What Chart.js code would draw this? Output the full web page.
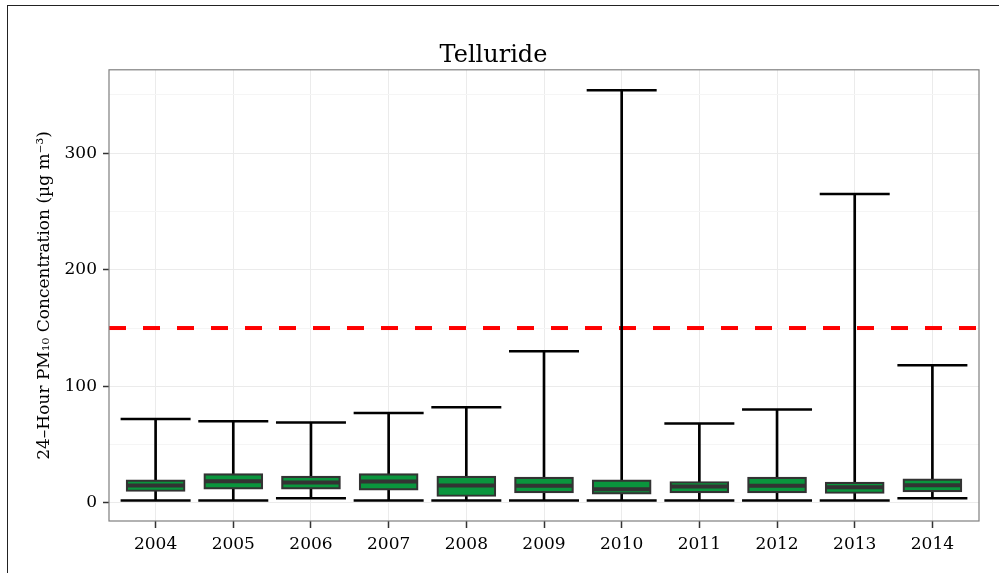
<!DOCTYPE html>
<html>
<head>
<meta charset="utf-8">
<script src="https://cdn.jsdelivr.net/npm/chart.js@4/dist/chart.umd.min.js"></script>
<style>
  html, body { margin: 0; padding: 0; background: #ffffff; }
  #wrap { position: relative; width: 999px; height: 573px; overflow: hidden; }
  #frame { position: absolute; left: 7px; top: 5px; width: 1010px; height: 600px;
           border: 1.5px solid #222; pointer-events: none; }
</style>
</head>
<body>
<div id="wrap">
  <canvas id="c" width="999" height="573"></canvas>
  <div id="frame"></div>
</div>
<script>
// ---- data ----
const years        = ['2004','2005','2006','2007','2008','2009','2010','2011','2012','2013','2014'];
const whiskerHigh  = [72, 70, 69, 77, 82, 130, 354, 68, 80, 265, 118];
const whiskerLow   = [2, 2, 4, 2, 2, 2, 2, 2, 2, 2, 4];
const q3           = [19.7, 25, 22.9, 25, 22.9, 22, 19.7, 18.3, 22, 17.7, 20.6];
const q1           = [9.7, 11.7, 11.7, 10.9, 5.4, 8.6, 7.4, 8.6, 8.6, 8, 9.4];
const medians      = [14.8, 18.6, 17.4, 18.3, 14.8, 14.6, 11.7, 14, 14.6, 13.4, 15.1];
const standard     = 150;                      // 24-hour PM10 NAAQS
const yTickValues  = [0, 50, 100, 150, 200, 250, 300, 350];
const yLabelValues = [0, 100, 200, 300];
const yLimits      = [-15.6, 371.6];
const xLimits      = [-0.6, years.length - 1 + 0.6];

const FONT = "'DejaVu Serif', serif";
const idx = years.map((_, i) => i);

const panelBorder = {
  id: 'panelBorder',
  afterDraw(chart) {
    const a = chart.chartArea, ctx = chart.ctx;
    ctx.save();
    ctx.strokeStyle = '#7f7f7f';
    ctx.lineWidth = 1.2;
    ctx.strokeRect(a.left, a.top, a.right - a.left, a.bottom - a.top);
    ctx.restore();
  }
};

new Chart(document.getElementById('c'), {
  type: 'bar',
  data: {
    datasets: [
      {
        type: 'line',
        label: 'standard',
        data: xLimits.map(x => ({ x: x, y: standard })),
        borderColor: '#ff0000',
        borderWidth: 4,
        borderDash: [17, 17],
        pointRadius: 0,
        fill: false,
        order: 5
      },
      {
        type: 'bar',
        label: 'whisker',
        data: idx.map(i => ({ x: i, y: [whiskerLow[i], whiskerHigh[i]] })),
        backgroundColor: '#000000',
        barThickness: 2,
        grouped: false,
        order: 4
      },
      {
        type: 'scatter',
        label: 'caps high',
        data: idx.map(i => ({ x: i, y: whiskerHigh[i] })),
        pointStyle: 'line',
        pointRadius: 35,
        pointHoverRadius: 35,
        borderColor: '#000000',
        borderWidth: 2.5,
        order: 3
      },
      {
        type: 'scatter',
        label: 'caps low',
        data: idx.map(i => ({ x: i, y: whiskerLow[i] })),
        pointStyle: 'line',
        pointRadius: 35,
        pointHoverRadius: 35,
        borderColor: '#000000',
        borderWidth: 2.5,
        order: 3
      },
      {
        type: 'bar',
        label: 'box',
        data: idx.map(i => ({ x: i, y: [q1[i], q3[i]] })),
        backgroundColor: '#0a953d',
        borderColor: '#333333',
        borderWidth: 2.2,
        borderSkipped: false,
        barThickness: 59,
        grouped: false,
        order: 2
      },
      {
        type: 'scatter',
        label: 'median',
        data: idx.map(i => ({ x: i, y: medians[i] })),
        pointStyle: 'line',
        pointRadius: 28.5,
        pointHoverRadius: 28.5,
        borderColor: '#333333',
        borderWidth: 4,
        order: 1
      }
    ]
  },
  options: {
    responsive: false,
    animation: false,
    devicePixelRatio: 1,
    layout: { autoPadding: false, padding: { left: 8, right: 20, top: 10, bottom: 0 } },
    plugins: {
      legend: { display: false },
      tooltip: { enabled: false },
      title: {
        display: true,
        text: 'Telluride',
        color: '#000000',
        font: { family: FONT, size: 24, weight: 'normal' },
        padding: { top: 31, bottom: 0 }
      }
    },
    scales: {
      x: {
        type: 'linear',
        position: 'bottom',
        offset: false,
        min: xLimits[0],
        max: xLimits[1],
        afterBuildTicks: s => { s.ticks = idx.map(v => ({ value: v })); },
        afterFit: s => { s.height = 52; },
        ticks: {
          callback: v => years[v],
          color: '#000000',
          font: { family: FONT, size: 17 },
          padding: 6,
          maxRotation: 0,
          autoSkip: false
        },
        grid: {
          offset: false,
          color: '#ebebeb',
          lineWidth: 1,
          tickColor: '#333333',
          tickLength: 7,
          tickWidth: 1.5
        },
        border: { display: false }
      },
      y: {
        type: 'linear',
        min: yLimits[0],
        max: yLimits[1],
        afterBuildTicks: s => { s.ticks = yTickValues.map(v => ({ value: v })); },
        afterFit: s => { s.width = 101; },
        ticks: {
          callback: v => (yLabelValues.includes(v) ? String(v) : ''),
          color: '#000000',
          font: { family: FONT, size: 17 },
          padding: 6
        },
        grid: {
          color: c => (yLabelValues.includes(c.tick && c.tick.value) ? '#ebebeb' : '#f5f5f5'),
          lineWidth: 1,
          tickColor: c => (yLabelValues.includes(c.tick && c.tick.value) ? '#333333' : 'rgba(0,0,0,0)'),
          tickLength: 6,
          tickWidth: 1.5
        },
        border: { display: false },
        title: {
          display: true,
          text: '24–Hour PM₁₀ Concentration (µg m⁻³)',
          color: '#000000',
          font: { family: FONT, size: 17 },
          padding: { top: 26, bottom: 0 }
        }
      }
    }
  },
  plugins: [panelBorder]
});
</script>
</body>
</html>
